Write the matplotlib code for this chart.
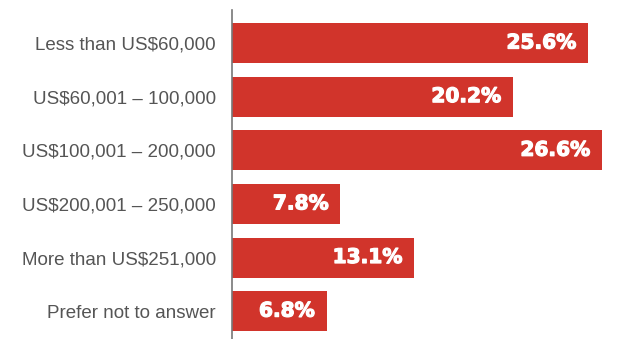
import matplotlib
matplotlib.use("Agg")
import matplotlib.pyplot as plt
import matplotlib.patheffects as pe

# Data
categories = [
    "Less than US$60,000",
    "US$60,001 \u2013 100,000",
    "US$100,001 \u2013 200,000",
    "US$200,001 \u2013 250,000",
    "More than US$251,000",
    "Prefer not to answer",
]
values = [25.6, 20.2, 26.6, 7.8, 13.1, 6.8]
value_labels = ["25.6%", "20.2%", "26.6%", "7.8%", "13.1%", "6.8%"]

BAR_COLOR = "#D1342B"
TEXT_COLOR = "#555555"

fig = plt.figure(figsize=(6.18, 3.39), dpi=100)
ax = fig.add_axes([232 / 618, 0, (618 - 232) / 618, (339 - 10) / 339])

y = list(range(len(categories)))
ax.barh(y, values, height=0.746, color=BAR_COLOR, edgecolor="none", zorder=2)

ax.set_xlim(0, 27.75)
ax.set_ylim(5.52, -0.616)

ax.set_yticks(y)
ax.set_yticklabels(categories, fontsize=13.5, color=TEXT_COLOR, family="Liberation Sans")
ax.tick_params(axis="y", length=0, pad=11.5)
ax.set_xticks([])

for s in ["top", "right", "bottom"]:
    ax.spines[s].set_visible(False)
ax.spines["left"].set_color("#777777")
ax.spines["left"].set_linewidth(1.2)
ax.spines["left"].set_zorder(3)

# value labels inside the bar end, slightly thickened for a heavy look
for yi, v, lab in zip(y, values, value_labels):
    ax.annotate(lab, xy=(v, yi), xytext=(-12, 0), textcoords="offset pixels",
                ha="right", va="center", color="white", fontsize=14.5,
                fontweight="bold", family="DejaVu Sans",
                path_effects=[pe.withStroke(linewidth=0.9, foreground="white")])

fig.savefig("out.png", dpi=100)
